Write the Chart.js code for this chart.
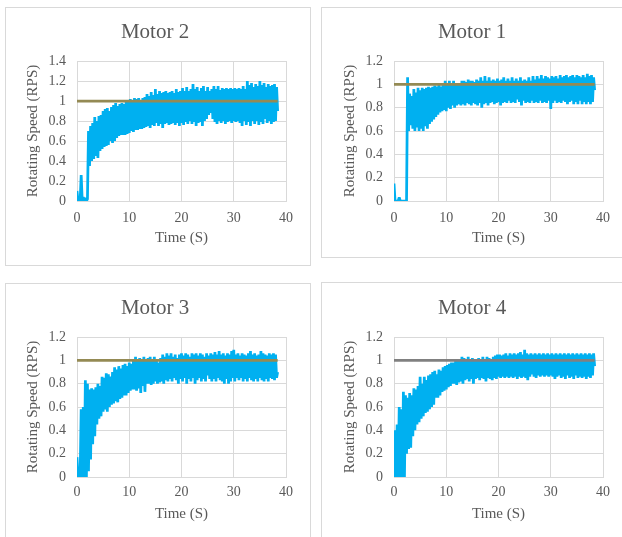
<!DOCTYPE html>
<html><head><meta charset="utf-8">
<script src="https://cdn.jsdelivr.net/npm/chart.js@4.4.1/dist/chart.umd.min.js"></script>
<style>
html,body{margin:0;padding:0;background:#fff;width:622px;height:537px;overflow:hidden;position:relative}
.panel{position:absolute;border:1px solid #D9D9D9;box-sizing:border-box;background:#fff}
canvas{position:absolute}
</style></head><body>
<div class="panel" style="left:5px;top:7px;width:306px;height:259px"></div>
<div class="panel" style="left:321px;top:7px;width:310px;height:251px"></div>
<div class="panel" style="left:5px;top:283px;width:306px;height:300px"></div>
<div class="panel" style="left:321px;top:282px;width:310px;height:300px"></div>
<canvas id="c2" width="305" height="258" style="left:5px;top:7px"></canvas>
<canvas id="c1" width="305" height="258" style="left:322px;top:7px"></canvas>
<canvas id="c3" width="305" height="258" style="left:5px;top:283px"></canvas>
<canvas id="c4" width="305" height="258" style="left:322px;top:283px"></canvas>
<script>
// Sample times (s)
const times = [
0,0.2,0.4,0.6,0.8,1,1.2,1.4,1.6,1.8,
2,2.2,2.4,2.6,2.8,3,3.2,3.4,3.6,3.8,
4,4.2,4.4,4.6,4.8,5,5.2,5.4,5.6,5.8,
6,6.2,6.4,6.6,6.8,7,7.2,7.4,7.6,7.8,
8,8.2,8.4,8.6,8.8,9,9.2,9.4,9.6,9.8,
10,10.2,10.4,10.6,10.8,11,11.2,11.4,11.6,11.8,
12,12.2,12.4,12.6,12.8,13,13.2,13.4,13.6,13.8,
14,14.2,14.4,14.6,14.8,15,15.2,15.4,15.6,15.8,
16,16.2,16.4,16.6,16.8,17,17.2,17.4,17.6,17.8,
18,18.2,18.4,18.6,18.8,19,19.2,19.4,19.6,19.8,
20,20.2,20.4,20.6,20.8,21,21.2,21.4,21.6,21.8,
22,22.2,22.4,22.6,22.8,23,23.2,23.4,23.6,23.8,
24,24.2,24.4,24.6,24.8,25,25.2,25.4,25.6,25.8,
26,26.2,26.4,26.6,26.8,27,27.2,27.4,27.6,27.8,
28,28.2,28.4,28.6,28.8,29,29.2,29.4,29.6,29.8,
30,30.2,30.4,30.6,30.8,31,31.2,31.4,31.6,31.8,
32,32.2,32.4,32.6,32.8,33,33.2,33.4,33.6,33.8,
34,34.2,34.4,34.6,34.8,35,35.2,35.4,35.6,35.8,
36,36.2,36.4,36.6,36.8,37,37.2,37.4,37.6,37.8,
38,38.2,38.4];

// Setpoint line
const refTimes = [0, 38.4];
const setpoint = [1, 1];

// Measured rotating speed (RPS)
const motor2 = [
0.1,0,0.02,0,0.26,0,0.04,0,0.03,0,
0.02,0.7,0.35,0.75,0.4,0.78,0.42,0.84,0.45,0.8,
0.43,0.85,0.5,0.86,0.52,0.9,0.54,0.92,0.55,0.93,
0.56,0.9,0.6,0.94,0.58,0.96,0.6,0.98,0.63,0.95,
0.65,0.97,0.66,0.98,0.66,0.97,0.66,0.99,0.67,1.0,
0.68,1.02,0.7,1.0,0.69,1.03,0.71,1.02,0.71,1.03,
0.72,1.01,0.72,1.03,0.73,1.04,0.74,1.07,0.75,1.05,
0.73,1.09,0.76,1.06,0.75,1.12,0.78,1.07,0.75,1.1,
0.77,1.08,0.73,1.09,0.77,1.1,0.78,1.08,0.76,1.09,
0.77,1.1,0.78,1.08,0.76,1.12,0.78,1.09,0.75,1.1,
0.78,1.13,0.76,1.1,0.79,1.14,0.77,1.1,0.8,1.12,
0.77,1.17,0.79,1.12,0.75,1.14,0.78,1.1,0.79,1.13,
0.75,1.15,0.8,1.1,0.82,1.14,0.86,1.1,0.88,1.12,
0.82,1.15,0.79,1.12,0.77,1.15,0.8,1.11,0.78,1.13,
0.8,1.12,0.77,1.13,0.79,1.12,0.8,1.13,0.78,1.12,
0.8,1.13,0.79,1.12,0.8,1.13,0.78,1.12,0.75,1.15,
0.8,1.12,0.76,1.2,0.79,1.16,0.75,1.18,0.8,1.14,
0.77,1.17,0.8,1.15,0.76,1.2,0.79,1.16,0.77,1.18,
0.82,1.14,0.78,1.17,0.8,1.15,0.77,1.16,0.79,1.17,
0.8,1.14,0.9];

const motor1 = [
0.15,0,0,0,0,0.03,0,0,0,0,
0,0,0,1.06,0.6,0.92,0.65,0.9,0.62,0.96,
0.6,0.93,0.63,0.97,0.6,0.95,0.62,0.97,0.6,0.96,
0.64,0.97,0.62,0.98,0.66,0.97,0.68,0.98,0.7,0.99,
0.72,0.98,0.74,1.0,0.76,0.98,0.77,1.0,0.78,1.03,
0.77,1.0,0.8,1.03,0.79,1.0,0.82,1.03,0.8,1.0,
0.82,1.01,0.83,1.0,0.82,1.03,0.83,1.03,0.82,1.02,
0.84,1.04,0.83,1.03,0.82,1.03,0.84,1.02,0.83,1.04,
0.82,1.03,0.84,1.06,0.8,1.03,0.83,1.07,0.84,1.03,
0.82,1.06,0.84,1.03,0.85,1.04,0.83,1.03,0.84,1.05,
0.85,1.03,0.82,1.04,0.84,1.06,0.85,1.03,0.84,1.05,
0.86,1.03,0.84,1.06,0.85,1.03,0.84,1.05,0.87,1.03,
0.85,1.06,0.82,1.03,0.86,1.04,0.84,1.03,0.85,1.06,
0.84,1.03,0.86,1.07,0.84,1.04,0.85,1.07,0.84,1.05,
0.86,1.08,0.84,1.05,0.85,1.07,0.84,1.06,0.86,1.05,
0.79,1.07,0.84,1.06,0.86,1.07,0.84,1.05,0.85,1.08,
0.84,1.06,0.86,1.07,0.85,1.08,0.83,1.06,0.85,1.07,
0.86,1.08,0.83,1.06,0.85,1.08,0.83,1.07,0.86,1.06,
0.83,1.08,0.85,1.06,0.83,1.09,0.85,1.07,0.83,1.08,
0.85,1.06,0.95];

const motor3 = [
0.17,0,0,0,0.58,0,0.6,0,0.83,0,
0.8,0.05,0.75,0.15,0.76,0.28,0.75,0.35,0.77,0.45,
0.8,0.5,0.78,0.52,0.86,0.56,0.85,0.58,0.89,0.56,
0.88,0.6,0.86,0.62,0.9,0.63,0.94,0.65,0.92,0.64,
0.95,0.67,0.93,0.68,0.96,0.7,0.97,0.7,0.95,0.72,
0.98,0.74,0.97,0.75,1.0,0.75,1.03,0.74,1.0,0.76,
1.02,0.72,1.0,0.78,1.03,0.73,1.0,0.8,1.02,0.8,
1.03,0.79,1.01,0.8,1.03,0.82,1.0,0.8,0.98,0.81,
1.02,0.82,1.05,0.8,1.03,0.83,1.06,0.82,1.04,0.84,
1.06,0.82,1.03,0.85,1.05,0.83,1.02,0.8,1.05,0.84,
1.06,0.82,1.04,0.85,1.06,0.8,1.05,0.84,1.03,0.82,
1.06,0.85,1.05,0.8,1.06,0.83,1.04,0.85,1.06,0.82,
1.05,0.84,1.03,0.82,1.06,0.87,1.04,0.84,1.06,0.82,
1.05,0.84,1.07,0.82,1.05,0.85,1.08,0.83,1.05,0.82,
1.06,0.8,1.04,0.84,1.06,0.8,1.05,0.82,1.08,0.85,
1.09,0.82,1.05,0.85,1.06,0.83,1.04,0.85,1.06,0.82,
1.05,0.84,1.04,0.82,1.06,0.85,1.08,0.83,1.05,0.82,
1.06,0.84,1.04,0.82,1.05,0.85,1.08,0.83,1.06,0.82,
1.05,0.84,1.04,0.82,1.06,0.85,1.05,0.84,1.06,0.83,
1.05,0.85,0.9];

const motor4 = [
0,0.4,0,0.45,0,0.6,0,0.58,0,0.73,
0,0.7,0.2,0.68,0.24,0.72,0.25,0.7,0.35,0.76,
0.4,0.75,0.45,0.78,0.47,0.86,0.5,0.8,0.52,0.86,
0.55,0.83,0.56,0.87,0.58,0.88,0.6,0.9,0.62,0.91,
0.68,0.88,0.68,0.92,0.7,0.91,0.73,0.94,0.74,0.95,
0.75,0.96,0.77,0.97,0.78,0.98,0.8,0.98,0.8,1.0,
0.79,1.0,0.81,1.0,0.82,1.03,0.8,1.02,0.83,1.0,
0.84,1.03,0.82,1.01,0.84,1.02,0.8,1.01,0.84,1.0,
0.85,1.02,0.83,1.01,0.85,1.03,0.84,1.01,0.82,1.03,
0.85,1.02,0.84,1.01,0.83,1.03,0.85,1.04,0.84,1.05,
0.86,1.05,0.85,1.04,0.86,1.05,0.85,1.06,0.86,1.04,
0.85,1.06,0.86,1.05,0.85,1.06,0.86,1.05,0.84,1.06,
0.86,1.07,0.85,1.05,0.86,1.09,0.85,1.06,0.83,1.05,
0.86,1.06,0.88,1.05,0.86,1.06,0.85,1.05,0.87,1.06,
0.86,1.05,0.87,1.06,0.86,1.05,0.87,1.06,0.86,1.05,
0.87,1.06,0.86,1.05,0.84,1.06,0.86,1.05,0.87,1.06,
0.85,1.05,0.86,1.06,0.84,1.05,0.87,1.06,0.85,1.05,
0.86,1.06,0.84,1.05,0.87,1.06,0.85,1.05,0.86,1.06,
0.85,1.05,0.86,1.06,0.84,1.05,0.86,1.06,0.85,1.05,
0.87,1.06,0.95];

const SERIF = "'Liberation Serif','Times New Roman',serif";
const TXT = '#595959';
const GRID = '#D9D9D9';

function build(id, title, vals, yMax, refColor, tickPad) {
  const pts = times.map((t, i) => ({x: t, y: vals[i]}));
  const ref = refTimes.map((t, i) => ({x: t, y: setpoint[i]}));
  new Chart(document.getElementById(id), {
    type: 'scatter',
    data: {datasets: [
      {data: ref, showLine: true, borderColor: refColor, borderWidth: 2.75, pointRadius: 0, order: 0},
      {data: pts, showLine: true, borderColor: '#00B0F0', borderWidth: 2.75, borderJoinStyle: 'bevel', pointRadius: 0, order: 1}
    ]},
    options: {
      responsive: false, animation: false, devicePixelRatio: 1,
      layout: {padding: {left: 19, right: 24, top: 0, bottom: 18}},
      plugins: {
        legend: {display: false}, tooltip: {enabled: false},
        title: {display: true, text: title, color: TXT,
          font: {family: SERIF, size: 21, weight: 'normal'}, padding: {top: 12.4, bottom: 16.4}}
      },
      scales: {
        x: {type: 'linear', min: 0, max: 40,
          afterFit: s => { s.height = 46; },
          ticks: {stepSize: 10, padding: tickPad, color: TXT, font: {family: SERIF, size: 14}},
          grid: {color: GRID, drawTicks: false}, border: {color: GRID},
          title: {display: true, text: 'Time (S)', color: TXT, font: {family: SERIF, size: 15}, padding: 0}},
        y: {min: 0, max: yMax,
          afterFit: s => { s.width = 53; },
          ticks: {stepSize: 0.2, padding: 11, color: TXT, font: {family: SERIF, size: 14},
            callback: v => String(Math.round(v * 10) / 10)},
          grid: {color: GRID, drawTicks: false}, border: {color: GRID},
          title: {display: true, text: 'Rotating Speed (RPS)', color: TXT, font: {family: SERIF, size: 15}, padding: 0}}
      }
    }
  });
}

build('c2', 'Motor 2', motor2, 1.4, '#948A54', 8.6);
build('c1', 'Motor 1', motor1, 1.2, '#948A54', 8.6);
build('c3', 'Motor 3', motor3, 1.2, '#948A54', 6.6);
build('c4', 'Motor 4', motor4, 1.2, '#808080', 6.6);
</script>
</body></html>
